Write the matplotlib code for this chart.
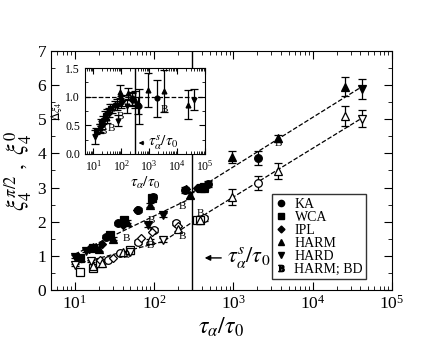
import numpy as np
import matplotlib
matplotlib.use("Agg")
import matplotlib.pyplot as plt
from matplotlib.ticker import LogLocator, NullFormatter

plt.rcParams['font.family'] = ['Liberation Serif', 'DejaVu Serif']
plt.rcParams['mathtext.fontset'] = 'stix'

# main panel: filled = xi_4^{pi/2}, open = xi_4^0
ka_t_up = [25, 35, 63, 97, 245, 400, 480, 2020]
ka_y_up = [1.56, 1.95, 2.34, 2.73, 2.93, 3.0, 3.10, 3.86]
ka_e_up = [0.05, 0.05, 0.05, 0.06, 0.08, 0.08, 0.08, 0.2]
wca_t_up = [11.6, 17, 28, 42, 95, 390, 430]
wca_y_up = [0.94, 1.22, 1.61, 2.05, 2.69, 2.99, 3.02]
ipl_t_up = [15, 22, 40, 60, 250, 350]
ipl_y_up = [1.2, 1.35, 1.9, 2.35, 2.97, 3.0]
harm_t_up = [17, 20, 30, 45, 89, 285, 420, 948, 3670, 25500]
harm_y_up = [1.27, 1.2, 1.5, 2.0, 2.49, 2.78, 3.0, 3.89, 4.44, 5.95]
harm_e_up = [0.05, 0.05, 0.05, 0.05, 0.06, 0.08, 0.08, 0.18, 0.1, 0.28]
hard_t_up = [10, 14, 84, 130, 41400]
hard_y_up = [0.98, 1.15, 1.90, 2.2, 5.88]
hard_e_up = [0.04, 0.04, 0.05, 0.05, 0.3]
bd_t_up = [45, 93, 225, 3700]
bd_y_up = [1.52, 2.05, 2.44, 4.28]

ka_t_lo = [26, 37, 63, 100, 190, 420, 2020]
ka_y_lo = [0.88, 1.07, 1.41, 1.76, 1.95, 2.1, 3.14]
ka_e_lo = [0.04, 0.04, 0.05, 0.05, 0.06, 0.07, 0.2]
wca_t_lo = [11.5, 17, 21, 50, 350, 380]
wca_y_lo = [0.54, 0.64, 0.8, 1.17, 2.05, 2.05]
ipl_t_lo = [21, 30, 68, 95, 200]
ipl_y_lo = [0.88, 0.95, 1.51, 1.7, 1.88]
harm_t_lo = [17, 22, 40, 90, 200, 380, 948, 3670, 25500]
harm_y_lo = [0.7, 0.8, 1.1, 1.45, 1.8, 2.05, 2.73, 3.49, 5.10]
harm_e_lo = [0.04, 0.04, 0.05, 0.05, 0.06, 0.07, 0.23, 0.23, 0.3]
hard_t_lo = [10, 16, 50, 130, 41400]
hard_y_lo = [0.73, 0.85, 1.1, 1.46, 5.01]
hard_e_lo = [0.04, 0.04, 0.05, 0.05, 0.25]
bd_t_lo = [45, 90, 225, 380]
bd_y_lo = [1.0, 1.3, 1.58, 2.25]

# dashed fits
fit_up_left_t = [10, 300]
fit_up_left_y = [1.05, 2.70]
fit_up_right_t = [300, 41400]
fit_up_right_y = [2.85, 5.95]
fit_lo_left_t = [10, 130, 300]
fit_lo_left_y = [0.75, 1.42, 1.98]
fit_lo_right_t = [300, 41400]
fit_lo_right_y = [1.98, 5.03]

tau_s = 300

# inset: delta xi_4
in_hard_t = [11.4, 17, 78, 155, 41000]
in_hard_y = [0.29, 0.45, 0.58, 0.83, 0.95]
in_hard_e = [0.12, 0.08, 0.1, 0.12, 0.18]
in_wca_t = [12, 18, 25, 40, 380]
in_wca_y = [0.40, 0.55, 0.68, 0.80, 0.85]
in_wca_e = [0.06, 0.06, 0.07, 0.08, 0.15]
in_ka_t = [22, 30, 60, 100, 250, 420, 1950]
in_ka_y = [0.60, 0.71, 0.85, 0.91, 0.97, 0.83, 0.97]
in_ka_e = [0.07, 0.07, 0.08, 0.1, 0.12, 0.3, 0.32]
in_harm_t = [17, 30, 45, 89, 170, 300, 880, 3500, 25000]
in_harm_y = [0.45, 0.62, 0.80, 1.09, 1.06, 0.95, 1.12, 1.10, 0.86]
in_harm_e = [0.07, 0.08, 0.08, 0.12, 0.1, 0.15, 0.3, 0.37, 0.25]
in_ipl_t = [20, 35, 68, 103, 250]
in_ipl_y = [0.5, 0.72, 0.86, 0.93, 0.95]
in_ipl_e = [0.07, 0.08, 0.1, 0.1, 0.12]
in_bd_t = [22, 45, 89, 3500]
in_bd_y = [0.39, 0.45, 0.65, 0.78]

legend_names = ['KA', 'WCA', 'IPL', 'HARM', 'HARD', 'HARM; BD']

fig = plt.figure(figsize=(4.43, 3.42), dpi=100)
ax = fig.add_axes([0.115, 0.152, 0.770, 0.699])

def pts(a, t, y, m, filled, e=None, ms=5.5):
    fc = 'k' if filled else 'white'
    a.errorbar(t, y, yerr=e, fmt=m, ms=ms, mfc=fc, mec='k', mew=0.9,
               ecolor='k', elinewidth=0.9, capsize=3, capthick=0.9, zorder=3)

def bmark(a, t, y, fs=8):
    for ti, yi in zip(t, y):
        a.text(ti, yi, 'B', fontsize=fs, ha='center', va='center', zorder=4)

ax.plot(fit_up_left_t, fit_up_left_y, 'k--', lw=0.9)
ax.plot(fit_up_right_t, fit_up_right_y, 'k--', lw=0.9)
ax.plot(fit_lo_left_t, fit_lo_left_y, 'k--', lw=0.9)
ax.plot(fit_lo_right_t, fit_lo_right_y, 'k--', lw=0.9)
ax.axvline(tau_s, color='k', lw=1)

pts(ax, ka_t_up, ka_y_up, 'o', True, ka_e_up)
pts(ax, wca_t_up, wca_y_up, 's', True)
pts(ax, ipl_t_up, ipl_y_up, 'D', True, ms=4.5)
pts(ax, harm_t_up, harm_y_up, '^', True, harm_e_up)
pts(ax, hard_t_up, hard_y_up, 'v', True, hard_e_up)
bmark(ax, bd_t_up, bd_y_up)
pts(ax, ka_t_lo, ka_y_lo, 'o', False, ka_e_lo)
pts(ax, wca_t_lo, wca_y_lo, 's', False)
pts(ax, ipl_t_lo, ipl_y_lo, 'D', False, ms=4.5)
pts(ax, harm_t_lo, harm_y_lo, '^', False, harm_e_lo)
pts(ax, hard_t_lo, hard_y_lo, 'v', False, hard_e_lo)
bmark(ax, bd_t_lo, bd_y_lo)

ax.set_xscale('log')
ax.set_xlim(5, 1e5)
ax.set_ylim(0, 7)
ax.set_yticks(range(0, 8))
ax.set_yticks(np.arange(0, 7.01, 0.5), minor=True)
ax.tick_params(which='both', direction='in', top=True, right=True, labelsize=12.5)
ax.tick_params(which='major', length=6)
ax.tick_params(which='minor', length=3)
ax.set_xlabel(r'$\tau_\alpha/\tau_0$', fontsize=17, labelpad=2)
ax.set_ylabel(r'$\xi_4^{\pi/2}\ ,\ \xi_4^0$', fontsize=17, labelpad=2)

ax.annotate('', xy=(400, 0.94), xytext=(760, 0.94),
            arrowprops=dict(arrowstyle='-|>', color='k', lw=1, mutation_scale=8))
ax.text(820, 0.94, r'$\tau_\alpha^s/\tau_0$', fontsize=16, va='center', ha='left')

# legend
hs = []
for m in ['o', 's', 'D', '^', 'v']:
    hs.append(ax.plot([], [], m, color='k', ms=4.5 if m != 'D' else 3.5)[0])
hs.append(ax.plot([], [], marker='$\\mathrm{B}$', ls='none', color='k', ms=4.5)[0])
leg = ax.legend(hs, legend_names, loc='lower right', bbox_to_anchor=(0.925, 0.045),
                fontsize=10, frameon=True, fancybox=False, edgecolor='k',
                handlelength=0.8, handletextpad=0.6, labelspacing=0.0,
                borderpad=0.25, borderaxespad=0)
leg.get_frame().set_linewidth(1)

# inset
ins = fig.add_axes([0.192, 0.550, 0.271, 0.251])
ins.axhline(1.0, color='k', ls='--', lw=0.9)
ins.axvline(tau_s, color='k', lw=1)
pts(ins, in_hard_t, in_hard_y, 'v', True, in_hard_e, ms=3.5)
pts(ins, in_wca_t, in_wca_y, 's', True, in_wca_e, ms=3.5)
pts(ins, in_ka_t, in_ka_y, 'o', True, in_ka_e, ms=3.5)
pts(ins, in_harm_t, in_harm_y, '^', True, in_harm_e, ms=3.5)
pts(ins, in_ipl_t, in_ipl_y, 'D', True, in_ipl_e, ms=3)
bmark(ins, in_bd_t, in_bd_y, fs=8)
ins.set_xscale('log')
ins.set_xlim(5, 1e5)
ins.xaxis.set_major_locator(LogLocator(base=10, numticks=10))
ins.xaxis.set_minor_locator(LogLocator(base=10, subs=np.arange(2, 10), numticks=10))
ins.xaxis.set_minor_formatter(NullFormatter())
ins.set_ylim(0, 1.5)
ins.set_yticks([0, 0.5, 1.0, 1.5])
ins.set_yticklabels(['0.0', '0.5', '1.0', '1.5'])
ins.set_yticks(np.arange(0, 1.51, 0.25), minor=True)
ins.tick_params(which='both', direction='in', top=True, right=True, labelsize=8.5)
ins.tick_params(which='major', length=4)
ins.tick_params(which='minor', length=2)
ins.set_xlabel(r'$\tau_\alpha/\tau_0$', fontsize=11, labelpad=1)
ins.set_ylabel(r'$\Delta\xi_4$', fontsize=8.5, labelpad=1)
ins.annotate('', xy=(330, 0.19), xytext=(800, 0.19),
             arrowprops=dict(arrowstyle='-|>', color='k', lw=0.8, mutation_scale=6))
ins.text(900, 0.19, r'$\tau_\alpha^s/\tau_0$', fontsize=11, va='center', ha='left')

fig.savefig('out.png', dpi=100)
